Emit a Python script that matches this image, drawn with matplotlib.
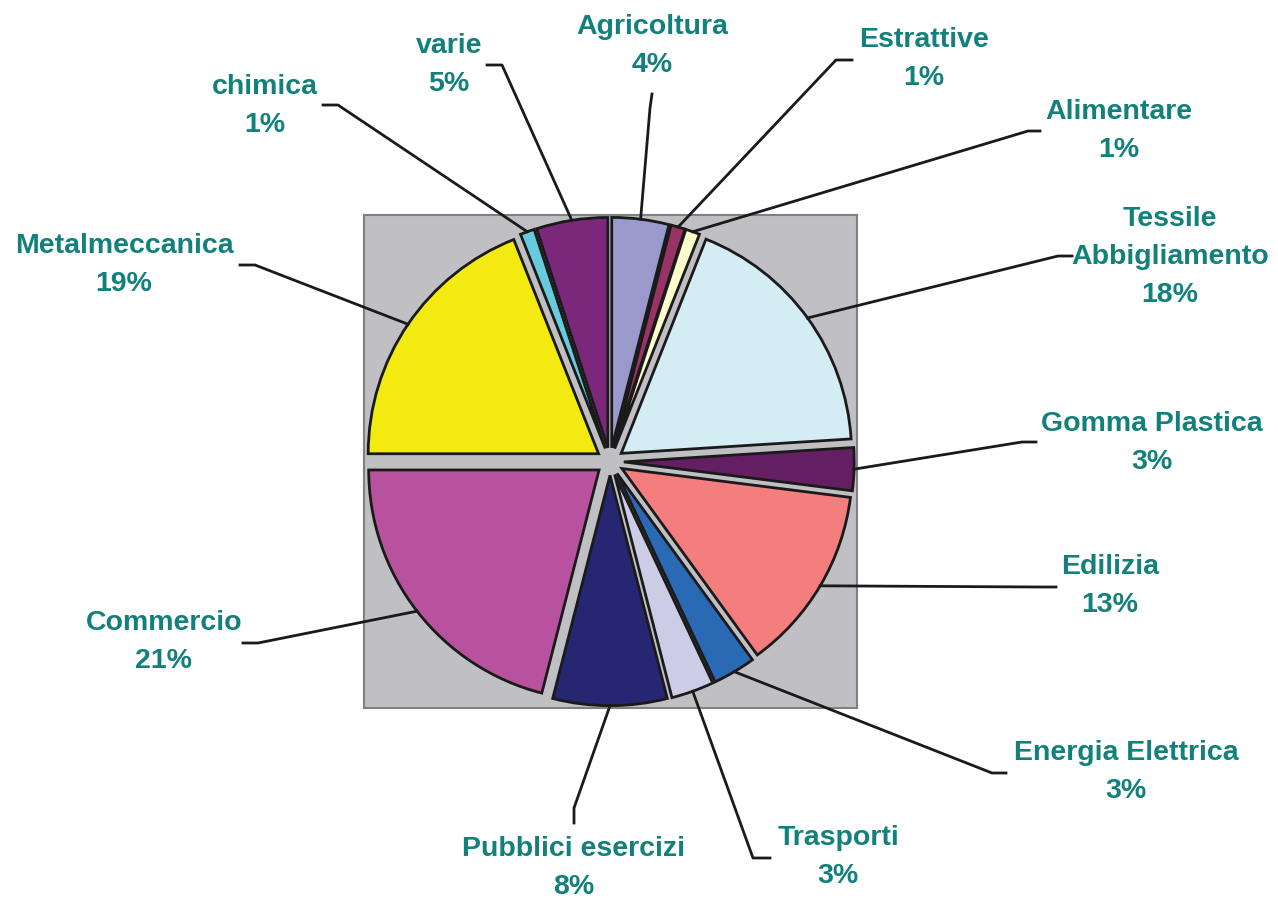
import numpy as np
import matplotlib.pyplot as plt
from matplotlib.lines import Line2D

# dati
settori = ['Agricoltura', 'Estrattive', 'Alimentare', 'Tessile\nAbbigliamento',
           'Gomma Plastica', 'Edilizia', 'Energia Elettrica', 'Trasporti',
           'Pubblici esercizi', 'Commercio', 'Metalmeccanica', 'chimica', 'varie']
percentuali = [4, 1, 1, 18, 3, 13, 3, 3, 8, 21, 19, 1, 5]
colori = ['#9999CC', '#993366', '#FFFFCC', '#D4ECF3', '#641E62', '#F47D7D',
          '#2A69B3', '#CCCCE6', '#262673', '#B8529E', '#F2EA10', '#66CCDD', '#7B287B']

# posizione etichette (pixel), gomito e fine della linea guida
pos_testo = [(652, 46), (924, 59), (1119, 131), (1170, 257), (1152, 443), (1110, 586),
             (1126, 772), (838, 857), (574, 868), (164, 642), (124, 265), (265, 106), (449, 65)]
gomito = [(650, 108), (836, 60), (1028, 131), (1058, 256), (1022, 442), (1040, 587),
          (992, 773), (753, 858), (574, 808), (258, 643), (255, 265), (338, 105), (502, 65)]
fine = [(652, 94), (852, 60), (1040, 131), (1072, 256), (1036, 442), (1056, 587),
        (1006, 773), (770, 858), (574, 823), (243, 643), (240, 265), (323, 105), (487, 65)]

W, H = 1278, 898
fig = plt.figure(figsize=(W / 100, H / 100), dpi=100)
ax = fig.add_axes([363 / W, (H - 708) / H, 494 / W, 493 / H])
ax.set_facecolor('#C0C0C4')

esplodi = [0.06] * len(percentuali)
wedges, _ = ax.pie(percentuali, colors=colori, startangle=90, counterclock=False,
                   explode=esplodi, frame=True,
                   wedgeprops=dict(edgecolor='#1a1a1a', linewidth=2))
lim = 1.07
ax.set_xlim(-lim, lim)
ax.set_ylim(-lim, lim)
ax.set_xticks([])
ax.set_yticks([])
for s in ax.spines.values():
    s.set_color('#808080')
    s.set_linewidth(1.5)
ax.apply_aspect()

teal = '#12807B'
to_fig = fig.transFigure.inverted()
for i, w in enumerate(wedges):
    mid = np.deg2rad((w.theta1 + w.theta2) / 2)
    cx, cy = w.center
    p = (cx + np.cos(mid), cy + np.sin(mid))
    a = to_fig.transform(ax.transData.transform(p))
    b = (gomito[i][0] / W, 1 - gomito[i][1] / H)
    c = (fine[i][0] / W, 1 - fine[i][1] / H)
    fig.add_artist(Line2D([a[0], b[0], c[0]], [a[1], b[1], c[1]],
                          color='#1a1a1a', linewidth=2, transform=fig.transFigure))
    tx, ty = pos_testo[i]
    fig.text(tx / W, 1 - ty / H, f"{settori[i]}\n{percentuali[i]}%",
             ha='center', va='center', color=teal, fontsize=20.5, fontweight='bold',
             family='Liberation Sans', linespacing=1.6)

fig.savefig('out.png', dpi=100)
